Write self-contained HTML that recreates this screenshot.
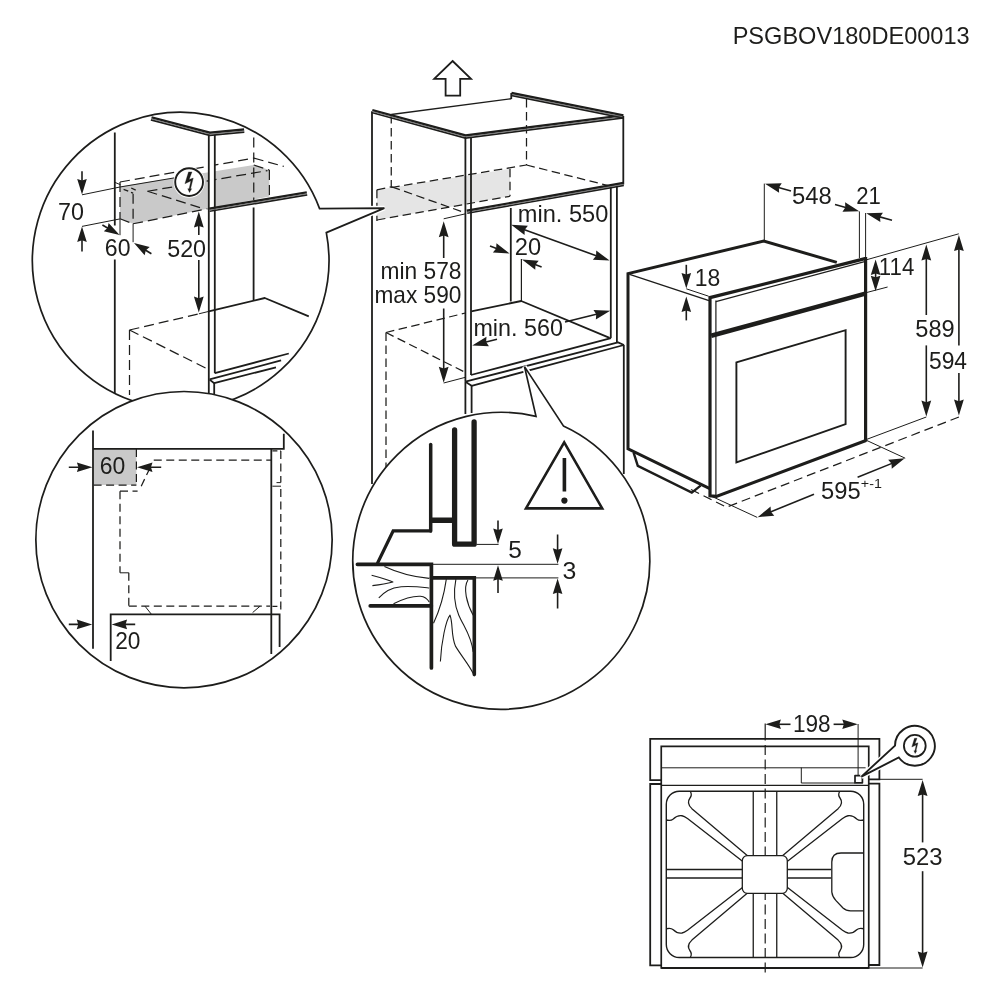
<!DOCTYPE html>
<html lang="en">
<head>
<meta charset="utf-8">
<title>PSGBOV180DE00013</title>
<style>html,body{margin:0;padding:0;background:#fff}svg{display:block;will-change:transform}</style>
</head>
<body>
<svg width="1000" height="1000" viewBox="0 0 1000 1000" font-family="'Liberation Sans', sans-serif" fill="#1d1d1b" stroke="#1d1d1b" stroke-linecap="butt" stroke-linejoin="round">
<rect x="0" y="0" width="1000" height="1000" fill="#ffffff" stroke="none"/>
<g stroke="none">
<text x="732.66" y="43.50" font-size="24.4" textLength="237.00" lengthAdjust="spacingAndGlyphs">PSGBOV180DE00013</text>
</g>
<g id="cabinet">
<polygon points="377.00,190.00 510.00,168.75 510.00,196.25 377.00,220.00" fill="#e5e5e5" stroke-width="0" stroke="none"/>
<line x1="391.25" y1="115.00" x2="391.25" y2="187.50" stroke-width="1.25" stroke-dasharray="8.5 4.5"/>
<line x1="526.50" y1="99.00" x2="526.50" y2="165.00" stroke-width="1.25" stroke-dasharray="8.5 4.5"/>
<line x1="391.25" y1="187.50" x2="526.50" y2="165.00" stroke-width="1.25" stroke-dasharray="8.5 4.5"/>
<line x1="526.50" y1="165.00" x2="610.60" y2="186.20" stroke-width="1.25" stroke-dasharray="8.5 4.5"/>
<line x1="377.00" y1="220.00" x2="510.00" y2="196.25" stroke-width="1.25" stroke-dasharray="8.5 4.5"/>
<line x1="510.00" y1="168.75" x2="510.00" y2="196.25" stroke-width="1.25" stroke-dasharray="8.5 4.5"/>
<line x1="391.80" y1="186.80" x2="465.40" y2="212.90" stroke-width="1.25" stroke-dasharray="8.5 4.5"/>
<line x1="376.90" y1="189.80" x2="391.80" y2="186.80" stroke-width="1.25" stroke-dasharray="8.5 4.5"/>
<line x1="376.90" y1="189.80" x2="376.90" y2="221.00" stroke-width="1.25" stroke-dasharray="8.5 4.5"/>
<line x1="372.00" y1="111.25" x2="372.00" y2="484.00" stroke-width="1.8"/>
<line x1="391.25" y1="114.50" x2="511.25" y2="98.75" stroke-width="1.3"/>
<polyline points="372.33,110.04 465.59,135.48 623.04,115.36" fill="none" stroke-width="2.4" stroke-linejoin="miter"/>
<polyline points="371.67,112.46 465.41,138.02 623.36,117.84" fill="none" stroke-width="1.7" stroke-linejoin="miter"/>
<polyline points="371.95,111.42 465.49,136.93 623.22,116.77" fill="none" stroke-width="0.9500000000000002" stroke="#777" stroke-linejoin="miter"/>
<polyline points="511.50,92.97 623.45,115.37" fill="none" stroke-width="2.4" stroke-linejoin="miter"/>
<polyline points="511.00,95.43 622.95,117.83" fill="none" stroke-width="1.7" stroke-linejoin="miter"/>
<polyline points="511.22,94.37 623.17,116.77" fill="none" stroke-width="0.9500000000000002" stroke="#777" stroke-linejoin="miter"/>
<line x1="511.25" y1="93.00" x2="511.25" y2="99.00" stroke-width="1.8"/>
<line x1="623.30" y1="116.00" x2="623.30" y2="184.50" stroke-width="1.8"/>
<polyline points="466.78,210.77 623.38,182.97" fill="none" stroke-width="2.4" stroke-linejoin="miter"/>
<polyline points="467.22,213.23 623.82,185.43" fill="none" stroke-width="1.7" stroke-linejoin="miter"/>
<polyline points="467.03,212.17 623.63,184.37" fill="none" stroke-width="0.9500000000000002" stroke="#777" stroke-linejoin="miter"/>
<line x1="465.40" y1="137.00" x2="465.40" y2="381.70" stroke-width="1.8"/>
<line x1="471.00" y1="138.00" x2="471.00" y2="375.00" stroke-width="1.8"/>
<line x1="610.80" y1="187.50" x2="610.80" y2="338.00" stroke-width="1.8"/>
<line x1="616.90" y1="186.50" x2="616.90" y2="343.00" stroke-width="1.8"/>
<line x1="510.80" y1="208.00" x2="510.80" y2="301.50" stroke-width="1.8"/>
<line x1="521.40" y1="259.00" x2="521.40" y2="301.00" stroke-width="1.2"/>
<polyline points="471.30,311.40 521.20,301.00 609.60,337.80" fill="none" stroke-width="1.8"/>
<line x1="470.90" y1="375.00" x2="611.00" y2="338.20" stroke-width="1.8"/>
<polyline points="465.40,381.70 618.00,342.40 624.00,345.00" fill="none" stroke-width="1.8"/>
<polyline points="465.40,381.70 471.60,385.80 624.00,345.00" fill="none" stroke-width="1.8"/>
<line x1="465.40" y1="381.70" x2="465.40" y2="414.00" stroke-width="1.8"/>
<line x1="471.60" y1="385.80" x2="471.60" y2="413.00" stroke-width="1.8"/>
<line x1="623.80" y1="345.00" x2="623.80" y2="474.00" stroke-width="1.8"/>
<line x1="386.00" y1="332.50" x2="465.50" y2="313.00" stroke-width="1.25" stroke-dasharray="8.5 4.5"/>
<line x1="386.00" y1="332.50" x2="465.50" y2="372.50" stroke-width="1.25" stroke-dasharray="8.5 4.5"/>
<line x1="386.00" y1="332.50" x2="386.00" y2="468.00" stroke-width="1.25" stroke-dasharray="8.5 4.5"/>
<line x1="443.70" y1="218.80" x2="465.50" y2="213.80" stroke-width="1.0"/>
<line x1="443.70" y1="258.00" x2="443.70" y2="232.40" stroke-width="1.6"/>
<polygon points="443.70,221.20 448.60,237.20 443.70,235.60 438.80,237.20" fill="#1d1d1b" stroke="none"/>
<line x1="443.70" y1="308.50" x2="443.70" y2="371.60" stroke-width="1.6"/>
<polygon points="443.70,382.80 438.80,366.80 443.70,368.40 448.60,366.80" fill="#1d1d1b" stroke="none"/>
<line x1="443.70" y1="383.00" x2="465.40" y2="377.30" stroke-width="1.0"/>
<g stroke="none">
<text x="380.46" y="279.40" font-size="24.0" textLength="81.01" lengthAdjust="spacingAndGlyphs">min 578</text>
<text x="374.47" y="303.00" font-size="24.0" textLength="86.89" lengthAdjust="spacingAndGlyphs">max 590</text>
<text x="517.81" y="221.90" font-size="24.0" textLength="90.49" lengthAdjust="spacingAndGlyphs">min. 550</text>
<text x="514.82" y="254.80" font-size="24.0" textLength="26.33" lengthAdjust="spacingAndGlyphs">20</text>
<text x="473.43" y="336.20" font-size="24.0" textLength="89.46" lengthAdjust="spacingAndGlyphs">min. 560</text>
</g>
<line x1="521.73" y1="228.63" x2="599.07" y2="256.77" stroke-width="1.6"/>
<polygon points="609.60,260.60 592.89,259.73 596.07,255.68 596.24,250.52" fill="#1d1d1b" stroke="none"/>
<polygon points="511.20,224.80 527.91,225.67 524.73,229.72 524.56,234.88" fill="#1d1d1b" stroke="none"/>
<line x1="490.00" y1="246.00" x2="499.16" y2="249.55" stroke-width="1.6"/>
<polygon points="509.60,253.60 492.91,252.38 496.17,248.39 496.45,243.25" fill="#1d1d1b" stroke="none"/>
<line x1="541.60" y1="267.00" x2="532.48" y2="263.56" stroke-width="1.6"/>
<polygon points="522.00,259.60 538.70,260.67 535.47,264.69 535.24,269.84" fill="#1d1d1b" stroke="none"/>
<line x1="497.00" y1="339.20" x2="483.04" y2="342.80" stroke-width="1.6"/>
<polygon points="472.20,345.60 486.47,336.86 486.14,342.00 488.92,346.35" fill="#1d1d1b" stroke="none"/>
<line x1="565.00" y1="322.00" x2="599.33" y2="313.49" stroke-width="1.6"/>
<polygon points="610.20,310.80 595.85,319.40 596.22,314.26 593.49,309.89" fill="#1d1d1b" stroke="none"/>
<polygon points="452.60,61.00 471.00,78.80 460.20,78.80 460.20,95.60 445.60,95.60 445.60,78.80 434.20,78.80" fill="#fff" stroke-width="1.8" stroke-linejoin="miter"/>
</g>
<clipPath id="c1"><circle cx="180.7" cy="260.6" r="148.3"/></clipPath>
<path d="M319.58,208.6 L384.4,208.1 L326.33,232.6" fill="none" stroke-width="4.6" stroke="#fff" stroke-linejoin="miter"/>
<path d="M319.58,208.6 A148.3,148.3 0 1 0 326.33,232.6 L384.4,208.1 Z" fill="#fff" stroke-width="1.7" stroke-linejoin="miter"/>
<g clip-path="url(#c1)">
<polygon points="120.00,186.50 253.75,165.00 269.40,170.00 269.40,196.40 214.50,207.60 207.50,208.80 133.10,223.75 120.00,218.75" fill="#c9c9c9" stroke-width="0" stroke="none"/>
<line x1="120.00" y1="182.00" x2="253.75" y2="158.10" stroke-width="1.25" stroke-dasharray="10 5"/>
<line x1="253.75" y1="158.10" x2="283.75" y2="166.40" stroke-width="1.25" stroke-dasharray="10 5"/>
<line x1="253.75" y1="137.50" x2="253.75" y2="200.00" stroke-width="1.25" stroke-dasharray="10 5"/>
<line x1="253.75" y1="165.00" x2="269.40" y2="170.00" stroke-width="1.25" stroke-dasharray="10 5"/>
<line x1="269.40" y1="170.00" x2="269.40" y2="196.40" stroke-width="1.25" stroke-dasharray="10 5"/>
<line x1="147.50" y1="191.25" x2="267.50" y2="170.60" stroke-width="1.25" stroke-dasharray="10 5"/>
<line x1="147.50" y1="191.25" x2="200.00" y2="207.60" stroke-width="1.25" stroke-dasharray="10 5"/>
<line x1="120.00" y1="182.00" x2="120.00" y2="218.75" stroke-width="1.25" stroke-dasharray="10 5"/>
<line x1="133.10" y1="193.75" x2="133.10" y2="223.75" stroke-width="1.25" stroke-dasharray="10 5"/>
<line x1="120.00" y1="218.75" x2="133.10" y2="223.75" stroke-width="1.25" stroke-dasharray="10 5"/>
<line x1="133.10" y1="223.75" x2="207.50" y2="208.80" stroke-width="1.25" stroke-dasharray="10 5"/>
<line x1="123.60" y1="189.30" x2="133.10" y2="193.20" stroke-width="1.25" stroke-dasharray="5 3"/>
<line x1="131.20" y1="188.00" x2="138.00" y2="191.20" stroke-width="1.25" stroke-dasharray="5 3"/>
<line x1="115.00" y1="182.40" x2="120.60" y2="184.80" stroke-width="1.0"/>
<rect x="208.8" y="134" width="6.0" height="240" fill="#fff" stroke="none"/>
<line x1="82.00" y1="194.80" x2="120.00" y2="187.00" stroke-width="1.0"/>
<line x1="120.00" y1="187.00" x2="176.00" y2="177.60" stroke-width="1.0"/>
<line x1="82.00" y1="226.40" x2="120.00" y2="218.90" stroke-width="1.0"/>
<line x1="120.00" y1="218.90" x2="120.00" y2="235.20" stroke-width="1.0"/>
<line x1="133.10" y1="223.75" x2="133.10" y2="242.20" stroke-width="1.0"/>
<line x1="114.80" y1="132.50" x2="114.80" y2="225.60" stroke-width="1.8"/>
<line x1="114.80" y1="259.50" x2="114.80" y2="395.00" stroke-width="1.8"/>
<line x1="253.60" y1="207.50" x2="253.60" y2="300.40" stroke-width="1.8"/>
<polyline points="208.80,311.30 264.80,298.00 308.80,316.40" fill="none" stroke-width="1.8"/>
<line x1="208.80" y1="134.00" x2="208.80" y2="395.00" stroke-width="1.8"/>
<line x1="214.80" y1="135.00" x2="214.80" y2="373.20" stroke-width="1.8"/>
<polyline points="151.52,117.39 209.90,132.73 244.08,129.56" fill="none" stroke-width="2.4" stroke-linejoin="miter"/>
<polyline points="150.88,119.81 209.70,135.27 244.32,132.04" fill="none" stroke-width="1.7" stroke-linejoin="miter"/>
<polyline points="151.16,118.77 209.79,134.18 244.22,130.97" fill="none" stroke-width="0.9500000000000002" stroke="#777" stroke-linejoin="miter"/>
<polyline points="209.19,208.77 306.79,192.37" fill="none" stroke-width="2.4" stroke-linejoin="miter"/>
<polyline points="209.61,211.23 307.21,194.83" fill="none" stroke-width="1.7" stroke-linejoin="miter"/>
<polyline points="209.43,210.17 307.03,193.77" fill="none" stroke-width="0.9500000000000002" stroke="#777" stroke-linejoin="miter"/>
<line x1="214.80" y1="373.20" x2="288.80" y2="353.50" stroke-width="1.8"/>
<line x1="209.60" y1="379.40" x2="281.10" y2="360.40" stroke-width="1.8"/>
<polyline points="209.60,379.60 214.20,383.20 276.00,367.30" fill="none" stroke-width="1.8"/>
<line x1="214.20" y1="383.20" x2="214.20" y2="395.00" stroke-width="1.8"/>
<line x1="129.50" y1="330.00" x2="198.40" y2="314.00" stroke-width="1.25" stroke-dasharray="10 5"/>
<line x1="198.90" y1="313.80" x2="208.80" y2="311.40" stroke-width="1.0"/>
<line x1="129.50" y1="330.00" x2="208.80" y2="369.60" stroke-width="1.25" stroke-dasharray="10 5"/>
<line x1="129.50" y1="330.00" x2="129.50" y2="395.00" stroke-width="1.25" stroke-dasharray="10 5"/>
<line x1="82.00" y1="171.20" x2="82.00" y2="183.55" stroke-width="1.6"/>
<polygon points="82.00,194.40 77.20,178.90 82.00,180.45 86.80,178.90" fill="#1d1d1b" stroke="none"/>
<line x1="82.00" y1="251.40" x2="82.00" y2="237.25" stroke-width="1.6"/>
<polygon points="82.00,226.40 86.80,241.90 82.00,240.35 77.20,241.90" fill="#1d1d1b" stroke="none"/>
<line x1="102.40" y1="225.00" x2="110.22" y2="229.55" stroke-width="1.6"/>
<polygon points="119.60,235.00 103.79,231.36 107.54,227.99 108.61,223.06" fill="#1d1d1b" stroke="none"/>
<line x1="151.40" y1="253.80" x2="143.22" y2="248.72" stroke-width="1.6"/>
<polygon points="134.00,243.00 149.70,247.10 145.85,250.36 144.64,255.25" fill="#1d1d1b" stroke="none"/>
<line x1="198.80" y1="235.00" x2="198.80" y2="222.80" stroke-width="1.6"/>
<polygon points="198.80,211.60 203.70,227.60 198.80,226.00 193.90,227.60" fill="#1d1d1b" stroke="none"/>
<line x1="198.80" y1="260.00" x2="198.80" y2="301.40" stroke-width="1.6"/>
<polygon points="198.80,312.60 193.90,296.60 198.80,298.20 203.70,296.60" fill="#1d1d1b" stroke="none"/>
<g stroke="none">
<text x="58.07" y="219.60" font-size="24.0" textLength="25.95" lengthAdjust="spacingAndGlyphs">70</text>
<text x="104.85" y="255.80" font-size="24.0" textLength="25.67" lengthAdjust="spacingAndGlyphs">60</text>
<text x="167.17" y="257.40" font-size="24.0" textLength="38.93" lengthAdjust="spacingAndGlyphs">520</text>
</g>
<circle cx="189.1" cy="182.1" r="15.6" fill="#fff" stroke="none"/>
<circle cx="189.1" cy="182.1" r="13.9" fill="#fff" stroke-width="1.9"/>
<polygon points="188.50,171.90 192.00,171.90 189.15,179.40 193.25,178.10 190.60,188.75 191.70,188.75 189.50,192.50 187.75,188.75 189.10,188.75 190.85,181.10 184.90,183.75" fill="#1d1d1b" stroke="#1d1d1b" stroke-width="0.3" stroke-linejoin="miter"/>
</g>
<clipPath id="c2"><circle cx="184.0" cy="539.65" r="148.15"/></clipPath>
<circle cx="184.0" cy="539.65" r="148.15" fill="#fff" stroke-width="1.7"/>
<g clip-path="url(#c2)">
<rect x="93.6" y="449" width="42.8" height="36" fill="#c9c9c9" stroke="none"/>
<line x1="136.40" y1="449.00" x2="136.40" y2="485.00" stroke-width="1.25" stroke-dasharray="8 4.5"/>
<line x1="93.60" y1="485.20" x2="136.40" y2="485.20" stroke-width="1.25" stroke-dasharray="8 4.5"/>
<line x1="93.00" y1="430.50" x2="93.00" y2="648.80" stroke-width="1.8"/>
<polyline points="93.00,448.80 283.80,448.80 283.80,433.80" fill="none" stroke-width="1.8" stroke-linejoin="miter"/>
<line x1="271.30" y1="448.80" x2="271.30" y2="654.00" stroke-width="1.8"/>
<line x1="153.75" y1="460.20" x2="271.00" y2="460.20" stroke-width="1.25" stroke-dasharray="8 4.5"/>
<line x1="153.70" y1="460.20" x2="141.20" y2="486.20" stroke-width="1.25" stroke-dasharray="0 8 8.5 4.5 8.5 0"/>
<line x1="120.00" y1="491.20" x2="137.60" y2="491.20" stroke-width="1.25" stroke-dasharray="8 4.5"/>
<line x1="120.00" y1="491.20" x2="120.00" y2="572.80" stroke-width="1.25" stroke-dasharray="8 4.5"/>
<line x1="120.00" y1="572.80" x2="128.80" y2="572.80" stroke-width="1.0"/>
<line x1="128.80" y1="572.80" x2="128.80" y2="606.20" stroke-width="1.25" stroke-dasharray="8 4.5"/>
<line x1="128.80" y1="606.20" x2="270.00" y2="606.20" stroke-width="1.25" stroke-dasharray="8 4.5"/>
<line x1="280.80" y1="451.00" x2="280.80" y2="482.60" stroke-width="1.25" stroke-dasharray="8 4.5"/>
<line x1="276.50" y1="482.60" x2="280.80" y2="482.60" stroke-width="1.0"/>
<line x1="272.40" y1="450.80" x2="281.00" y2="450.80" stroke-width="1.25" stroke-dasharray="5 3"/>
<line x1="272.40" y1="606.40" x2="281.00" y2="606.40" stroke-width="1.25" stroke-dasharray="5 3"/>
<line x1="272.40" y1="486.20" x2="281.00" y2="486.20" stroke-width="1.0"/>
<line x1="280.80" y1="489.00" x2="280.80" y2="612.00" stroke-width="1.25" stroke-dasharray="8 4.5"/>
<line x1="145.00" y1="606.20" x2="151.20" y2="614.00" stroke-width="1.0"/>
<line x1="260.00" y1="606.20" x2="252.60" y2="612.60" stroke-width="1.0"/>
<polyline points="110.70,661.00 110.70,614.30 279.60,614.30 279.60,647.00" fill="none" stroke-width="1.8" stroke-linejoin="miter"/>
<line x1="68.80" y1="467.20" x2="81.55" y2="467.20" stroke-width="1.6"/>
<polygon points="92.40,467.20 76.90,472.00 78.45,467.20 76.90,462.40" fill="#1d1d1b" stroke="none"/>
<line x1="161.20" y1="467.20" x2="147.85" y2="467.20" stroke-width="1.6"/>
<polygon points="137.00,467.20 152.50,462.40 150.95,467.20 152.50,472.00" fill="#1d1d1b" stroke="none"/>
<line x1="68.80" y1="624.40" x2="81.35" y2="624.40" stroke-width="1.6"/>
<polygon points="92.20,624.40 76.70,629.20 78.25,624.40 76.70,619.60" fill="#1d1d1b" stroke="none"/>
<line x1="135.20" y1="624.40" x2="122.45" y2="624.40" stroke-width="1.6"/>
<polygon points="111.60,624.40 127.10,619.60 125.55,624.40 127.10,629.20" fill="#1d1d1b" stroke="none"/>
<g stroke="none">
<text x="99.75" y="474.00" font-size="24.0" textLength="25.56" lengthAdjust="spacingAndGlyphs">60</text>
<text x="115.17" y="648.60" font-size="24.0" textLength="25.24" lengthAdjust="spacingAndGlyphs">20</text>
</g>
</g>
<clipPath id="c3"><circle cx="501.3" cy="560.8" r="148.5"/></clipPath>
<path d="M536.00,416.41 L524.5,366.6 L563.40,425.91" fill="none" stroke-width="4.6" stroke="#fff" stroke-linejoin="miter"/>
<path d="M536.00,416.41 A148.5,148.5 0 1 0 563.40,425.91 L524.5,366.6 Z" fill="#fff" stroke-width="1.7" stroke-linejoin="miter"/>
<g clip-path="url(#c3)">
<path d="M384.40,566.40 C398.00,572.80 414.00,576.80 429.20,578.40" fill="none" stroke-width="1.1"/>
<path d="M371.60,575.20 C378.80,577.12 388.40,579.68 392.88,581.92 C386.80,583.52 378.80,584.80 372.40,585.60" fill="none" stroke-width="1.1"/>
<path d="M378.80,597.92 C384.40,592.00 390.00,587.68 401.20,586.72 C414.00,586.08 422.00,587.20 429.20,588.00" fill="none" stroke-width="1.1"/>
<path d="M393.52,603.68 C402.80,599.20 414.00,596.00 420.40,596.32 C425.20,596.80 427.60,599.20 429.20,602.08" fill="none" stroke-width="1.1"/>
<path d="M446.32,579.20 C444.40,592.80 439.60,610.40 433.52,623.20" fill="none" stroke-width="1.1"/>
<path d="M455.92,579.20 C453.20,592.80 454.00,604.00 458.80,615.20 C463.60,626.40 471.60,636.00 473.20,652.00" fill="none" stroke-width="1.1"/>
<path d="M467.92,580.00 C462.80,588.00 466.80,604.00 473.20,615.20" fill="none" stroke-width="1.1"/>
<path d="M440.40,661.60 C441.20,642.40 446.00,620.00 450.00,615.20 C453.20,623.20 450.80,636.00 455.60,646.40 C462.00,656.80 470.00,666.40 473.20,673.60" fill="none" stroke-width="1.1"/>
<line x1="430.70" y1="444.60" x2="430.70" y2="531.00" stroke-width="3.5" stroke-linecap="round" stroke-linejoin="miter"/>
<line x1="430.50" y1="520.20" x2="454.50" y2="520.20" stroke-width="5.4"/>
<polyline points="431.80,530.80 393.20,530.80 377.40,563.40" fill="none" stroke-width="3.3" stroke-linejoin="miter"/>
<polyline points="454.60,430.00 454.60,544.20 474.10,544.20 474.10,422.00" fill="none" stroke-width="5.3" stroke-linecap="round" stroke-linejoin="round"/>
<polyline points="357.40,564.30 431.40,564.30 431.40,668.00" fill="none" stroke-width="3.7" stroke-linecap="round" stroke-linejoin="miter"/>
<line x1="370.20" y1="605.90" x2="431.40" y2="605.90" stroke-width="3.6" stroke-linecap="round" stroke-linejoin="miter"/>
<polyline points="431.40,577.90 474.30,577.90 474.30,674.60" fill="none" stroke-width="3.6" stroke-linecap="round" stroke-linejoin="miter"/>
<line x1="476.40" y1="544.40" x2="498.60" y2="544.40" stroke-width="1.0"/>
<line x1="431.60" y1="564.30" x2="558.40" y2="564.30" stroke-width="1.0"/>
<line x1="474.30" y1="577.90" x2="558.40" y2="577.90" stroke-width="1.0"/>
<line x1="498.00" y1="520.40" x2="498.00" y2="533.15" stroke-width="1.6"/>
<polygon points="498.00,544.00 493.20,528.50 498.00,530.05 502.80,528.50" fill="#1d1d1b" stroke="none"/>
<line x1="498.00" y1="593.00" x2="498.00" y2="576.05" stroke-width="1.6"/>
<polygon points="498.00,565.20 502.80,580.70 498.00,579.15 493.20,580.70" fill="#1d1d1b" stroke="none"/>
<line x1="557.60" y1="534.40" x2="557.60" y2="552.95" stroke-width="1.6"/>
<polygon points="557.60,563.80 552.80,548.30 557.60,549.85 562.40,548.30" fill="#1d1d1b" stroke="none"/>
<line x1="557.60" y1="608.60" x2="557.60" y2="589.45" stroke-width="1.6"/>
<polygon points="557.60,578.60 562.40,594.10 557.60,592.55 552.80,594.10" fill="#1d1d1b" stroke="none"/>
<g stroke="none">
<text x="508.22" y="558.20" font-size="24.0" textLength="13.58" lengthAdjust="spacingAndGlyphs">5</text>
<text x="562.47" y="579.00" font-size="24.0" textLength="13.82" lengthAdjust="spacingAndGlyphs">3</text>
</g>
<polygon points="564.20,442.40 602.20,508.40 526.00,508.40" fill="none" stroke-width="2.6" stroke-linejoin="miter"/>
<line x1="564.40" y1="458.00" x2="564.40" y2="491.40" stroke-width="3.6"/>
<circle cx="564.4" cy="500.6" r="3.1" stroke="none"/>
</g>
<g id="oven">
<polyline points="691.00,489.50 726.40,507.20 959.00,417.00" fill="none" stroke-width="1.25" stroke-dasharray="9 5"/>
<polyline points="709.80,488.60 628.00,448.80 628.00,273.60 763.80,241.00 836.80,262.40" fill="none" stroke-width="3.0" stroke-linejoin="miter"/>
<line x1="629.60" y1="274.40" x2="709.00" y2="300.60" stroke-width="1.4"/>
<polyline points="633.60,452.60 637.80,465.80 691.80,492.60 700.60,485.60" fill="none" stroke-width="2.4" stroke-linejoin="miter"/>
<polyline points="866.00,258.40 710.00,297.60 710.00,495.80 716.40,496.40 866.00,440.60" fill="none" stroke-width="3.2" stroke-linejoin="miter"/>
<line x1="865.60" y1="257.00" x2="865.60" y2="441.60" stroke-width="3.2"/>
<line x1="715.90" y1="300.40" x2="715.90" y2="495.40" stroke-width="1.2"/>
<line x1="715.90" y1="301.60" x2="864.60" y2="261.60" stroke-width="1.2"/>
<line x1="711.20" y1="335.80" x2="866.20" y2="293.40" stroke-width="4.6"/>
<polygon points="736.40,362.40 845.60,330.20 845.60,424.20 736.40,462.40" fill="none" stroke-width="1.9" stroke-linejoin="miter"/>
<line x1="764.30" y1="183.60" x2="764.30" y2="241.00" stroke-width="1.0"/>
<line x1="859.40" y1="211.40" x2="859.40" y2="258.00" stroke-width="1.0"/>
<line x1="865.60" y1="213.00" x2="865.60" y2="258.00" stroke-width="1.0"/>
<line x1="791.00" y1="191.00" x2="775.79" y2="186.79" stroke-width="1.6"/>
<polygon points="765.00,183.80 781.73,183.35 778.88,187.64 779.11,192.79" fill="#1d1d1b" stroke="none"/>
<line x1="835.00" y1="204.60" x2="848.41" y2="208.31" stroke-width="1.6"/>
<polygon points="859.20,211.30 842.47,211.75 845.32,207.46 845.09,202.31" fill="#1d1d1b" stroke="none"/>
<line x1="892.00" y1="220.20" x2="877.01" y2="216.13" stroke-width="1.6"/>
<polygon points="866.20,213.20 882.92,212.66 880.10,216.97 880.36,222.12" fill="#1d1d1b" stroke="none"/>
<line x1="686.30" y1="264.80" x2="686.30" y2="277.55" stroke-width="1.6"/>
<polygon points="686.30,288.40 681.50,272.90 686.30,274.45 691.10,272.90" fill="#1d1d1b" stroke="none"/>
<line x1="686.30" y1="320.40" x2="686.30" y2="307.45" stroke-width="1.6"/>
<polygon points="686.30,296.60 691.10,312.10 686.30,310.55 681.50,312.10" fill="#1d1d1b" stroke="none"/>
<line x1="686.30" y1="288.80" x2="708.60" y2="296.20" stroke-width="1.0"/>
<line x1="866.40" y1="259.80" x2="958.80" y2="233.80" stroke-width="1.0"/>
<line x1="866.40" y1="292.60" x2="887.60" y2="287.00" stroke-width="1.0"/>
<line x1="875.60" y1="275.00" x2="875.60" y2="270.45" stroke-width="1.6"/>
<polygon points="875.60,259.60 880.40,275.10 875.60,273.55 870.80,275.10" fill="#1d1d1b" stroke="none"/>
<line x1="875.60" y1="275.00" x2="875.60" y2="280.35" stroke-width="1.6"/>
<polygon points="875.60,291.20 870.80,275.70 875.60,277.25 880.40,275.70" fill="#1d1d1b" stroke="none"/>
<line x1="926.30" y1="315.00" x2="926.30" y2="255.80" stroke-width="1.6"/>
<polygon points="926.30,244.60 931.20,260.60 926.30,259.00 921.40,260.60" fill="#1d1d1b" stroke="none"/>
<line x1="926.30" y1="345.40" x2="926.30" y2="405.40" stroke-width="1.6"/>
<polygon points="926.30,416.60 921.40,400.60 926.30,402.20 931.20,400.60" fill="#1d1d1b" stroke="none"/>
<line x1="866.60" y1="439.40" x2="926.30" y2="417.00" stroke-width="1.0"/>
<line x1="958.90" y1="345.60" x2="958.90" y2="246.20" stroke-width="1.6"/>
<polygon points="958.90,235.00 963.80,251.00 958.90,249.40 954.00,251.00" fill="#1d1d1b" stroke="none"/>
<line x1="958.90" y1="373.00" x2="958.90" y2="404.40" stroke-width="1.6"/>
<polygon points="958.90,415.60 954.00,399.60 958.90,401.20 963.80,399.60" fill="#1d1d1b" stroke="none"/>
<line x1="711.00" y1="496.00" x2="757.20" y2="517.40" stroke-width="1.0"/>
<line x1="866.60" y1="440.40" x2="905.20" y2="458.20" stroke-width="1.0"/>
<line x1="814.00" y1="494.20" x2="767.97" y2="512.97" stroke-width="1.6"/>
<polygon points="757.60,517.20 770.57,506.62 770.93,511.76 774.27,515.70" fill="#1d1d1b" stroke="none"/>
<line x1="857.60" y1="477.20" x2="894.41" y2="462.38" stroke-width="1.6"/>
<polygon points="904.80,458.20 891.79,468.72 891.44,463.58 888.13,459.63" fill="#1d1d1b" stroke="none"/>
<g stroke="none">
<text x="791.95" y="203.60" font-size="24.0" textLength="39.79" lengthAdjust="spacingAndGlyphs">548</text>
<text x="856.19" y="203.60" font-size="24.0" textLength="24.61" lengthAdjust="spacingAndGlyphs">21</text>
<text x="694.68" y="285.60" font-size="24.0" textLength="25.55" lengthAdjust="spacingAndGlyphs">18</text>
<text x="878.83" y="275.30" font-size="24.0" textLength="35.42" lengthAdjust="spacingAndGlyphs">114</text>
<text x="915.36" y="337.40" font-size="24.0" textLength="39.33" lengthAdjust="spacingAndGlyphs">589</text>
<text x="928.99" y="369.30" font-size="24.0" textLength="38.06" lengthAdjust="spacingAndGlyphs">594</text>
<text x="821.05" y="499.40" font-size="24.0" textLength="39.52" lengthAdjust="spacingAndGlyphs">595</text>
<text x="860.78" y="488.00" font-size="12.8" textLength="21.11" lengthAdjust="spacingAndGlyphs">+-1</text>
</g>
</g>
<g id="topview">
<polyline points="661.25,780.20 650.20,780.20 650.20,738.80 879.40,738.80 879.40,779.40 868.80,779.40" fill="none" stroke-width="1.8" stroke-linejoin="miter"/>
<polyline points="661.25,784.00 650.20,784.00 650.20,965.40 661.25,965.40" fill="none" stroke-width="1.8" stroke-linejoin="miter"/>
<polyline points="868.80,783.60 879.40,783.60 879.40,965.00 868.80,965.00" fill="none" stroke-width="1.8" stroke-linejoin="miter"/>
<polygon points="661.25,968.00 661.25,746.40 868.75,746.40 868.75,968.00" fill="none" stroke-width="1.7" stroke-linejoin="miter"/>
<line x1="661.25" y1="968.00" x2="868.75" y2="968.00" stroke-width="2.2"/>
<line x1="661.25" y1="767.80" x2="865.60" y2="767.80" stroke-width="1.0"/>
<line x1="661.25" y1="785.40" x2="868.75" y2="785.40" stroke-width="1.2"/>
<polyline points="801.30,767.60 801.30,783.00 855.00,783.00" fill="none" stroke-width="1.0"/>
<rect x="855.0" y="775.6" width="7.4" height="7.2" fill="#fff" stroke-width="1.7"/>
<rect x="666.3" y="791.3" width="197.4" height="166.2" rx="13" ry="13" fill="none" stroke-width="1.4"/>
<line x1="753.25" y1="791.25" x2="753.25" y2="856.00" stroke-width="1.3"/>
<line x1="753.25" y1="893.75" x2="753.25" y2="957.50" stroke-width="1.3"/>
<line x1="776.75" y1="791.25" x2="776.75" y2="856.00" stroke-width="1.3"/>
<line x1="776.75" y1="893.75" x2="776.75" y2="957.50" stroke-width="1.3"/>
<line x1="666.25" y1="869.50" x2="742.50" y2="869.50" stroke-width="1.3"/>
<line x1="787.50" y1="869.50" x2="831.25" y2="869.50" stroke-width="1.3"/>
<line x1="666.25" y1="878.00" x2="742.50" y2="878.00" stroke-width="1.3"/>
<line x1="787.50" y1="878.00" x2="831.25" y2="878.00" stroke-width="1.3"/>
<path d="M863.7,853 L841,853 Q831.8,853 831.8,862 L831.8,892 Q832.4,897 836,900.6 L843,908 Q846,910.8 850.5,910.8 L863.7,910.8" fill="none" stroke-width="1.3"/>
<path d="M690.25,791.25 C691.75,793.75 691.75,795.75 690.0,798.0 C687.75,801.0 688.0,805.0 691.9,808.65 L747.5,855.75" fill="none" stroke-width="1.3"/>
<path d="M666.25,820.0 C669.0,820.75 671.25,820.75 673.25,819.0 C675.75,816.5 679.0,815.25 682.0,815.75 C684.5,816.25 686.0,817.5 687.5,818.6 L742.5,861.25" fill="none" stroke-width="1.3"/>
<path d="M690.25,957.5 C691.75,955.0 691.75,953.0 690.0,950.75 C687.75,947.75 688.0,943.75 691.9,940.1 L747.5,893.0" fill="none" stroke-width="1.3"/>
<path d="M666.25,928.75 C669.0,928.0 671.25,928.0 673.25,929.75 C675.75,932.25 679.0,933.5 682.0,933.0 C684.5,932.5 686.0,931.25 687.5,930.15 L742.5,887.5" fill="none" stroke-width="1.3"/>
<path d="M839.75,791.25 C838.25,793.75 838.25,795.75 840.0,798.0 C842.25,801.0 842.0,805.0 838.1,808.65 L782.5,855.75" fill="none" stroke-width="1.3"/>
<path d="M863.75,820.0 C861.0,820.75 858.75,820.75 856.75,819.0 C854.25,816.5 851.0,815.25 848.0,815.75 C845.5,816.25 844.0,817.5 842.5,818.6 L787.5,861.25" fill="none" stroke-width="1.3"/>
<path d="M839.75,957.5 C838.25,955.0 838.25,953.0 840.0,950.75 C842.25,947.75 842.0,943.75 838.1,940.1 L782.5,893.0" fill="none" stroke-width="1.3"/>
<path d="M863.75,928.75 C861.0,928.0 858.75,928.0 856.75,929.75 C854.25,932.25 851.0,933.5 848.0,933.0 C845.5,932.5 844.0,931.25 842.5,930.15 L787.5,887.5" fill="none" stroke-width="1.3"/>
<line x1="765.20" y1="723.60" x2="765.20" y2="975.00" stroke-width="1.2" stroke-dasharray="17 4.5 10 4.5 10 4.5 10 4.5 10 4.5 10 4.5 10 4.5 10 4.5 10 4.5 10 4.5 10 4.5 10 4.5 10 4.5 10 4.5 10 4.5 10 4.5 10 4.5"/>
<rect x="742.3" y="855.7" width="45.0" height="37.6" rx="5" ry="5" fill="#fff" stroke-width="1.3"/>
<line x1="858.10" y1="724.00" x2="858.10" y2="775.60" stroke-width="1.0"/>
<line x1="790.50" y1="724.30" x2="776.25" y2="724.30" stroke-width="1.6"/>
<polygon points="765.40,724.30 780.90,719.50 779.35,724.30 780.90,729.10" fill="#1d1d1b" stroke="none"/>
<line x1="833.60" y1="724.30" x2="846.95" y2="724.30" stroke-width="1.6"/>
<polygon points="857.80,724.30 842.30,729.10 843.85,724.30 842.30,719.50" fill="#1d1d1b" stroke="none"/>
<line x1="879.40" y1="779.30" x2="922.60" y2="779.30" stroke-width="1.0"/>
<line x1="868.80" y1="968.00" x2="922.60" y2="968.00" stroke-width="1.0"/>
<line x1="922.60" y1="842.40" x2="922.60" y2="791.20" stroke-width="1.6"/>
<polygon points="922.60,780.00 927.50,796.00 922.60,794.40 917.70,796.00" fill="#1d1d1b" stroke="none"/>
<line x1="922.60" y1="871.20" x2="922.60" y2="956.20" stroke-width="1.6"/>
<polygon points="922.60,967.40 917.70,951.40 922.60,953.00 927.50,951.40" fill="#1d1d1b" stroke="none"/>
<g stroke="none">
<text x="792.91" y="731.80" font-size="24.0" textLength="37.68" lengthAdjust="spacingAndGlyphs">198</text>
<text x="902.75" y="865.00" font-size="24.0" textLength="39.79" lengthAdjust="spacingAndGlyphs">523</text>
</g>
<path d="M895.00,745.63 L861.4,776.6 L898.80,757.50" fill="none" stroke-width="4.6" stroke="#fff" stroke-linejoin="miter"/>
<path d="M895.00,745.63 A19.9,19.9 0 1 1 898.80,757.50 L861.4,776.6 Z" fill="#fff" stroke-width="1.9" stroke-linejoin="miter"/>
<circle cx="914.8" cy="745.8" r="10.9" fill="#fff" stroke-width="1.8"/>
<polygon points="914.46,738.25 917.05,738.25 914.94,743.80 917.97,742.84 916.01,750.72 916.82,750.72 915.20,753.50 913.90,750.72 914.90,750.72 916.19,745.06 911.79,747.02" fill="#1d1d1b" stroke="#1d1d1b" stroke-width="0.3" stroke-linejoin="miter"/>
</g>
</svg>
</body>
</html>
